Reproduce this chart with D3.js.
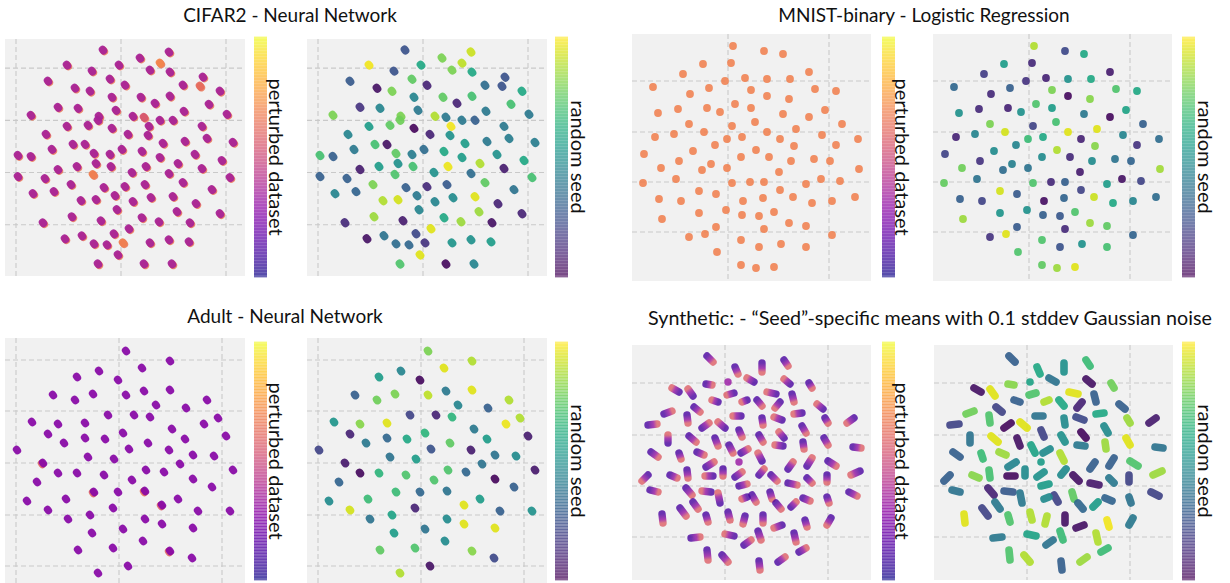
<!DOCTYPE html>
<html>
<head>
<meta charset="utf-8">
<script src="https://cdn.jsdelivr.net/npm/d3@7"></script>
<style>
  body { margin: 0; background: #fff; }
  svg { display: block; }
  text { font-family: Lato, "Open Sans", sans-serif; fill: #111; }
</style>
</head>
<body>
<svg id="chart" width="1230" height="583"></svg>
<script>
// ---------- CIFAR2 - Neural Network: 2-D embedding, seed id per run ----------
const cifarX = [-18,48,19,39,-54,-2,29,-29,49,82,
  -11,-73,62,4,-46,79,-31,99,20,-9,
  49,34,88,-63,-43,-5,63,-90,-22,12,
  23,106,39,52,-23,28,-54,-33,-9,81,
  -75,7,27,86,64,112,-48,-36,-69,42,
  1,21,-27,-11,74,-103,-90,39,101,-25,
  -10,-44,25,57,-63,81,11,48,-103,-28,
  -76,109,62,-50,24,-17,4,-67,91,-88,
  -6,30,52,-40,-25,12,75,-4,56,-49,
  21,99,-20,38,69,-78,8,-7,-39,-56,
  29,48,68,-27,-14,2,-3,23,-23,51];
const cifarY = [122,120,114,109,107,107,102,101,100,95,
  93,91,87,87,84,86,81,81,75,75,
  76,69,68,65,64,62,61,57,56,56,
  55,58,52,52,52,46,46,47,44,46,
  38,38,37,34,31,30,28,28,23,29,
  23,21,19,18,18,17,16,15,12,9,
  6,6,6,9,3,4,0,-1,-4,-2,
  -6,-5,-10,-12,-12,-15,-14,-19,-17,-21,
  -23,-25,-24,-28,-27,-29,-31,-37,-39,-44,
  -45,-41,-48,-49,-50,-50,-56,-61,-63,-66,
  -70,-67,-69,-71,-72,-70,-82,-91,-91,-91];
const cifarSeed = [25,92,80,90,98,60,80,25,60,25,
  75,28,35,10,5,25,80,60,75,45,
  70,10,70,15,45,40,40,80,80,88,
  40,40,40,30,78,98,55,75,2,40,
  45,10,50,42,40,42,70,5,40,55,
  35,60,75,42,50,70,30,55,60,50,
  70,55,97,88,8,8,50,35,30,72,
  30,70,75,80,28,30,12,32,38,45,
  40,48,95,88,93,45,10,45,85,85,
  60,10,8,85,5,12,95,22,38,5,
  52,50,55,35,33,15,95,3,72,45];
// perturbed-dataset value of the two stacked runs, and runs that differ: [index, value]
const cifarPerturbedLayers = [66, 37];
const cifarPerturbedOverrides = [[3, 70], [15, 62], [30, 55], [69, 68], [105, 68]];
const cifarTicksX = [-105, 0, 105];
const cifarTicksY = [-52, 0, 52, 104];

// ---------- MNIST-binary - Logistic Regression ----------
const mnistX = [5,36,55,-25,3,81,-45,-3,17,39,
  62,-75,-19,23,87,108,-38,39,61,7,
  -21,-50,-8,23,-70,55,97,81,-39,27,
  4,114,68,-54,-24,39,-73,-1,14,52,
  94,130,-13,66,108,-35,28,-84,13,41,
  86,-49,63,102,-17,-67,-1,-26,131,51,
  -52,93,-85,4,22,36,78,112,-29,52,
  -12,-69,-47,15,35,65,84,104,127,-2,
  -29,14,31,46,-66,61,-12,36,78,-39,
  -23,13,104,53,31,78,-11,13,28,46];
const mnistY = [136,131,128,118,119,110,108,101,104,103,
  103,95,94,92,93,91,88,86,83,78,
  74,73,70,74,69,68,72,65,58,60,
  56,58,53,48,50,50,45,43,45,43,
  47,43,37,36,37,31,32,28,25,25,
  23,21,21,21,18,14,14,12,13,10,
  3,3,-1,-1,0,0,-2,1,-9,-8,
  -12,-17,-19,-19,-16,-15,-21,-19,-15,-28,
  -31,-33,-34,-30,-37,-41,-45,-47,-44,-55,
  -52,-58,-53,-62,-65,-65,-70,-83,-86,-85];
const mnistSeed = [88,22,60,55,12,8,18,15,10,50,
  60,33,30,80,72,60,12,3,82,72,
  10,12,50,55,50,40,58,3,80,70,
  20,30,95,45,93,95,10,68,60,10,
  45,35,45,82,15,48,88,20,48,12,
  38,15,48,32,43,78,38,35,86,8,
  38,5,76,72,12,30,55,20,93,20,
  28,30,20,4,32,92,60,45,35,50,
  52,30,27,72,85,85,28,12,75,15,
  95,72,32,50,25,70,72,75,85,95];
const mnistPerturbedLayers = [69];
const mnistTicksX = [-101, 0, 101];
const mnistTicksY = [-50, 0, 50, 101];

// ---------- Adult - Neural Network ----------
const adultX = [7,51,23,-20,-42,-1,-66,-26,7,25,
  51,-44,37,67,88,-11,15,31,-87,-61,
  -34,85,99,-71,4,53,-55,-34,-14,66,
  107,29,-102,10,50,-31,-5,74,95,-76,
  -61,-42,-15,27,45,61,114,-82,13,74,
  -25,-1,26,93,-92,-53,59,-71,-6,43,
  79,111,-51,-29,26,43,4,74,-27,24,
  -41,-6,51,73,9,-21];
const adultY = [112,102,95,92,86,83,68,69,68,72,
  73,63,58,55,63,48,48,46,41,39,
  40,39,45,29,30,34,20,25,24,24,
  27,20,13,14,13,6,4,8,7,0,
  -10,-10,-12,-7,-9,-1,-7,-19,-17,-16,
  -29,-29,-28,-24,-38,-36,-36,-47,-45,-42,
  -48,-48,-56,-52,-56,-61,-66,-65,-70,-78,
  -87,-85,-88,-95,-103,-110];
const adultSeed = [80,88,95,45,55,3,30,80,90,40,
  95,78,45,30,88,20,10,65,52,82,
  95,97,88,10,65,40,40,33,60,55,
  8,75,20,25,8,38,55,38,48,7,
  3,65,72,72,33,38,7,32,72,2,
  68,33,38,30,48,68,55,93,10,95,
  30,50,38,58,48,95,38,95,55,48,
  75,72,82,22,5,88];
const adultPerturbedLayers = [28];
const adultPerturbedOverrides = [[39, 60], [50, 60], [52, 64], [59, 58], [72, 60]];
const adultTicksX = [-103, 0, 103];
const adultTicksY = [-103, -52, 0, 52, 103];

// ---------- Synthetic: each seed is a short trail from the first to the last perturbed dataset ----------
const synX1 = [-18,37,10,59,29,3,-19,65,84,-46,
  -32,9,51,-7,22,32,55,67,98,-61,
  -31,16,77,-38,0,-23,57,37,100,129,
  -77,-57,77,-36,14,34,59,-10,99,78,
  58,128,-74,-46,-28,4,16,37,103,14,
  -19,-2,63,82,-38,-55,-12,10,34,46,
  -77,102,135,63,82,14,-75,-39,-14,-5,
  27,45,22,66,78,102,124,-32,51,-45,
  -63,-19,3,20,38,80,57,106,-34,9,
  33,19,69,-18,-3,34,53,74];
const synY1 = [130,123,119,126,104,104,102,102,103,94,
  90,93,92,84,86,86,84,92,77,72,
  79,70,73,71,58,58,66,68,68,68,
  61,43,60,50,56,51,48,48,48,44,
  40,39,34,33,34,41,33,25,25,24,
  19,17,17,20,16,11,10,9,11,11,
  11,11,15,3,8,0,-4,-2,-6,-17,
  -9,-6,-11,-21,-12,-11,-6,-16,-17,-22,
  -28,-29,-26,-30,-29,-34,-39,-32,-52,-50,
  -45,-59,-47,-64,-69,-75,-76,-66];
const synX2 = [-12,37,13,63,22,3,-13,59,87,-53,
  -37,2,42,-13,17,37,50,69,92,-53,
  -25,8,69,-37,-7,-16,49,38,103,122,
  -68,-57,81,-29,17,38,54,-7,103,79,
  50,136,-67,-44,-21,8,23,33,111,14,
  -11,-2,68,87,-37,-48,-20,17,39,52,
  -83,102,126,72,87,22,-67,-33,-23,-7,
  31,47,17,71,85,104,132,-27,56,-39,
  -62,-17,5,18,38,82,49,102,-25,0,
  36,26,71,-17,3,35,60,81];
const synY2 = [124,114,112,120,108,104,101,107,98,98,
  97,91,94,86,84,80,78,84,82,75,
  74,70,72,63,64,63,69,61,63,63,
  62,51,53,44,49,44,54,40,41,37,
  41,38,29,27,31,33,37,33,20,24,
  24,10,24,28,8,8,10,14,17,5,
  5,4,11,1,3,2,-6,-9,-5,-7,
  -16,-13,-13,-16,-15,-17,-10,-23,-23,-30,
  -37,-36,-34,-38,-37,-41,-42,-39,-51,-48,
  -54,-54,-56,-74,-76,-84,-71,-62];
const synSeed = [30,50,60,68,38,58,82,5,78,5,
  95,72,95,30,88,60,10,30,30,78,
  20,38,60,72,95,3,22,48,85,8,
  20,38,48,95,20,50,3,5,95,85,
  40,38,30,68,85,58,48,88,72,55,
  45,48,30,30,70,82,3,50,48,5,
  30,20,85,7,40,55,38,10,28,40,
  20,75,48,55,32,38,20,40,33,20,
  95,72,88,88,5,98,5,40,40,58,
  68,38,88,72,88,30,85,68];
// perturbed-dataset values along a trail: [position along trail, value]
const synPerturbedStops = [[0, 12], [0.6, 32], [1, 58]];
const synTicksX = [-103, 0, 103];
const synTicksY = [-51, 0, 51, 103];

// ---------- text ----------
const titles = [
  "CIFAR2 - Neural Network",
  "MNIST-binary - Logistic Regression",
  "Adult - Neural Network",
  "Synthetic: - \u201cSeed\u201d-specific means with 0.1 stddev Gaussian noise"
];
const colorbarLabels = ["perturbed dataset", "random seed"];

// ---------- layout ----------
const svg = d3.select("#chart");
const defs = svg.append("defs");
const plasma = d3.scaleSequential(d3.interpolatePlasma).domain([0, 100]);
const viridis = d3.scaleSequential(d3.interpolateViridis).domain([0, 100]);

const layout = {
  cifar: { top: 39, height: 237, width: 240, lefts: [5, 307], xDomain: [-116, 124], yDomain: [-103, 133],
           bar: { top: 37, height: 240, lefts: [254, 555] }, title: { x: 290, y: 22, size: 19 } },
  mnist: { top: 34, height: 247, width: 239, lefts: [632, 933], xDomain: [-96, 143], yDomain: [-99, 148],
           bar: { top: 37, height: 240, lefts: [882, 1182] }, title: { x: 924, y: 22, size: 19 } },
  adult: { top: 338, height: 245, width: 240, lefts: [5, 307], xDomain: [-114, 126], yDomain: [-120, 125],
           bar: { top: 342, height: 238, lefts: [254, 555] }, title: { x: 285, y: 323, size: 19 } },
  synth: { top: 345, height: 235, width: 239, lefts: [632, 934], xDomain: [-93, 146], yDomain: [-94, 141],
           bar: { top: 342, height: 238, lefts: [882, 1182] }, title: { x: 930, y: 325, size: 19.7 } }
};

let clipCount = 0;
function frame(L, left, ticksX, ticksY) {
  const x = d3.scaleLinear().domain(L.xDomain).range([left, left + L.width]);
  const y = d3.scaleLinear().domain(L.yDomain).range([L.top + L.height, L.top]);
  const id = "clip" + (clipCount++);
  defs.append("clipPath").attr("id", id).append("rect")
    .attr("x", left).attr("y", L.top).attr("width", L.width).attr("height", L.height);
  const g = svg.append("g").attr("clip-path", `url(#${id})`);
  g.append("rect").attr("x", left).attr("y", L.top).attr("width", L.width).attr("height", L.height)
    .attr("fill", "#f1f1f1");
  const grid = g.append("g").attr("stroke", "#c9c9c9").attr("stroke-width", 1.1).attr("stroke-dasharray", "5,3");
  grid.selectAll(".gx").data(ticksX).join("line").attr("class", "gx")
    .attr("x1", d => x(d)).attr("x2", d => x(d)).attr("y1", L.top).attr("y2", L.top + L.height);
  grid.selectAll(".gy").data(ticksY).join("line").attr("class", "gy")
    .attr("y1", d => y(d)).attr("y2", d => y(d)).attr("x1", left).attr("x2", left + L.width);
  return { g, x, y };
}

function colorbar(L, side, interp, label, labelOffset) {
  const left = L.bar.lefts[side], top = L.bar.top, h = L.bar.height, n = 80, step = h / n;
  const g = svg.append("g");
  g.selectAll("rect").data(d3.range(n)).join("rect")
    .attr("x", left).attr("width", 13)
    .attr("y", i => top + h - (i + 1) * step - 0.4)
    .attr("height", step + 0.8)
    .attr("fill", i => interp((i + 0.5) / n))
    .attr("fill-opacity", 0.62);
  svg.append("text")
    .attr("transform", `translate(${left + labelOffset},${top + h / 2}) rotate(90)`)
    .attr("text-anchor", "middle").attr("dominant-baseline", "central")
    .style("font-size", "20px").text(label);
}

// small elongated blob: several overlapping runs of one point
const blobDx = 0.45, blobDy = 0.6;
function blobs(g, pts, color, width, dx = 0, dy = 0, opacity = 0.92) {
  g.append("g").selectAll("line").data(pts).join("line")
    .attr("x1", d => d.px - blobDx + dx).attr("y1", d => d.py - blobDy + dy)
    .attr("x2", d => d.px + blobDx + dx).attr("y2", d => d.py + blobDy + dy)
    .attr("stroke", color).attr("stroke-width", width).attr("stroke-linecap", "round")
    .attr("stroke-opacity", opacity);
}

function pointSet(xs, ys, seeds, f) {
  return xs.map((v, i) => ({ i, px: f.x(v), py: f.y(ys[i]), seed: seeds[i] }));
}

// ---------- CIFAR2 ----------
{
  const L = layout.cifar;
  const fl = frame(L, L.lefts[0], cifarTicksX, cifarTicksY);
  const ptsL = pointSet(cifarX, cifarY, cifarSeed, fl);
  const over = new Map(cifarPerturbedOverrides);
  blobs(fl.g, ptsL, plasma(cifarPerturbedLayers[0]), 7.6, 0.9, 0.8, 0.85);
  blobs(fl.g, ptsL, d => plasma(over.has(d.i) ? over.get(d.i) : cifarPerturbedLayers[1]), 7.6, 0, 0, 0.93);
  colorbar(L, 0, d3.interpolatePlasma, colorbarLabels[0], 23);

  const fr = frame(L, L.lefts[1], cifarTicksX, cifarTicksY);
  const ptsR = pointSet(cifarX, cifarY, cifarSeed, fr);
  blobs(fr.g, ptsR, d => viridis(d.seed), 7.8);
  colorbar(L, 1, d3.interpolateViridis, colorbarLabels[1], 24);
}

// ---------- MNIST ----------
{
  const L = layout.mnist;
  const fl = frame(L, L.lefts[0], mnistTicksX, mnistTicksY);
  fl.g.append("g").selectAll("circle").data(pointSet(mnistX, mnistY, mnistSeed, fl)).join("circle")
    .attr("cx", d => d.px).attr("cy", d => d.py).attr("r", 3.9)
    .attr("fill", plasma(mnistPerturbedLayers[0])).attr("fill-opacity", 0.88);
  colorbar(L, 0, d3.interpolatePlasma, colorbarLabels[0], 21);

  const fr = frame(L, L.lefts[1], mnistTicksX, mnistTicksY);
  fr.g.append("g").selectAll("circle").data(pointSet(mnistX, mnistY, mnistSeed, fr)).join("circle")
    .attr("cx", d => d.px).attr("cy", d => d.py).attr("r", 3.9)
    .attr("fill", d => viridis(d.seed)).attr("fill-opacity", 0.92);
  colorbar(L, 1, d3.interpolateViridis, colorbarLabels[1], 24);
}

// ---------- Adult ----------
{
  const L = layout.adult;
  const fl = frame(L, L.lefts[0], adultTicksX, adultTicksY);
  const ptsL = pointSet(adultX, adultY, adultSeed, fl);
  const over = new Map(adultPerturbedOverrides);
  blobs(fl.g, ptsL.filter(d => over.has(d.i)), d => plasma(over.get(d.i)), 7.4, -1, 0.9, 0.9);
  blobs(fl.g, ptsL, plasma(adultPerturbedLayers[0]), 7.4, 0, 0, 0.93);
  colorbar(L, 0, d3.interpolatePlasma, colorbarLabels[0], 23);

  const fr = frame(L, L.lefts[1], adultTicksX, adultTicksY);
  blobs(fr.g, pointSet(adultX, adultY, adultSeed, fr), d => viridis(d.seed), 7.6);
  colorbar(L, 1, d3.interpolateViridis, colorbarLabels[1], 24);
}

// ---------- Synthetic ----------
{
  const L = layout.synth;
  const trails = f => synX1.map((v, i) => {
    const d = { i, x1: f.x(v), y1: f.y(synY1[i]), x2: f.x(synX2[i]), y2: f.y(synY2[i]), seed: synSeed[i] };
    d.single = d.x1 === d.x2 && d.y1 === d.y2;
    return d;
  });

  const fl = frame(L, L.lefts[0], synTicksX, synTicksY);
  const tl = trails(fl);
  tl.filter(d => !d.single).forEach(d => {
    const gr = defs.append("linearGradient").attr("id", "trail" + d.i)
      .attr("gradientUnits", "userSpaceOnUse")
      .attr("x1", d.x1).attr("y1", d.y1).attr("x2", d.x2).attr("y2", d.y2);
    synPerturbedStops.forEach(([t, v]) => gr.append("stop").attr("offset", t).attr("stop-color", plasma(v)));
  });
  fl.g.append("g").selectAll("line").data(tl).join("line")
    .attr("x1", d => d.x1).attr("y1", d => d.y1)
    .attr("x2", d => d.single ? d.x2 + 0.01 : d.x2).attr("y2", d => d.y2)
    .attr("stroke", d => d.single ? plasma(synPerturbedStops[1][1]) : `url(#trail${d.i})`)
    .attr("stroke-width", 7.4).attr("stroke-linecap", "round").attr("stroke-opacity", 0.8);
  colorbar(L, 0, d3.interpolatePlasma, colorbarLabels[0], 21);

  const fr = frame(L, L.lefts[1], synTicksX, synTicksY);
  fr.g.append("g").selectAll("line").data(trails(fr)).join("line")
    .attr("x1", d => d.x1).attr("y1", d => d.y1)
    .attr("x2", d => d.x2 + 0.01).attr("y2", d => d.y2)
    .attr("stroke", d => viridis(d.seed))
    .attr("stroke-width", 7.6).attr("stroke-linecap", "round").attr("stroke-opacity", 0.92);
  colorbar(L, 1, d3.interpolateViridis, colorbarLabels[1], 24);
}

// ---------- titles ----------
[layout.cifar, layout.mnist, layout.adult, layout.synth].forEach((L, k) => {
  svg.append("text").attr("x", L.title.x).attr("y", L.title.y)
    .attr("text-anchor", "middle").style("font-size", L.title.size + "px").text(titles[k]);
});
</script>
</body>
</html>
